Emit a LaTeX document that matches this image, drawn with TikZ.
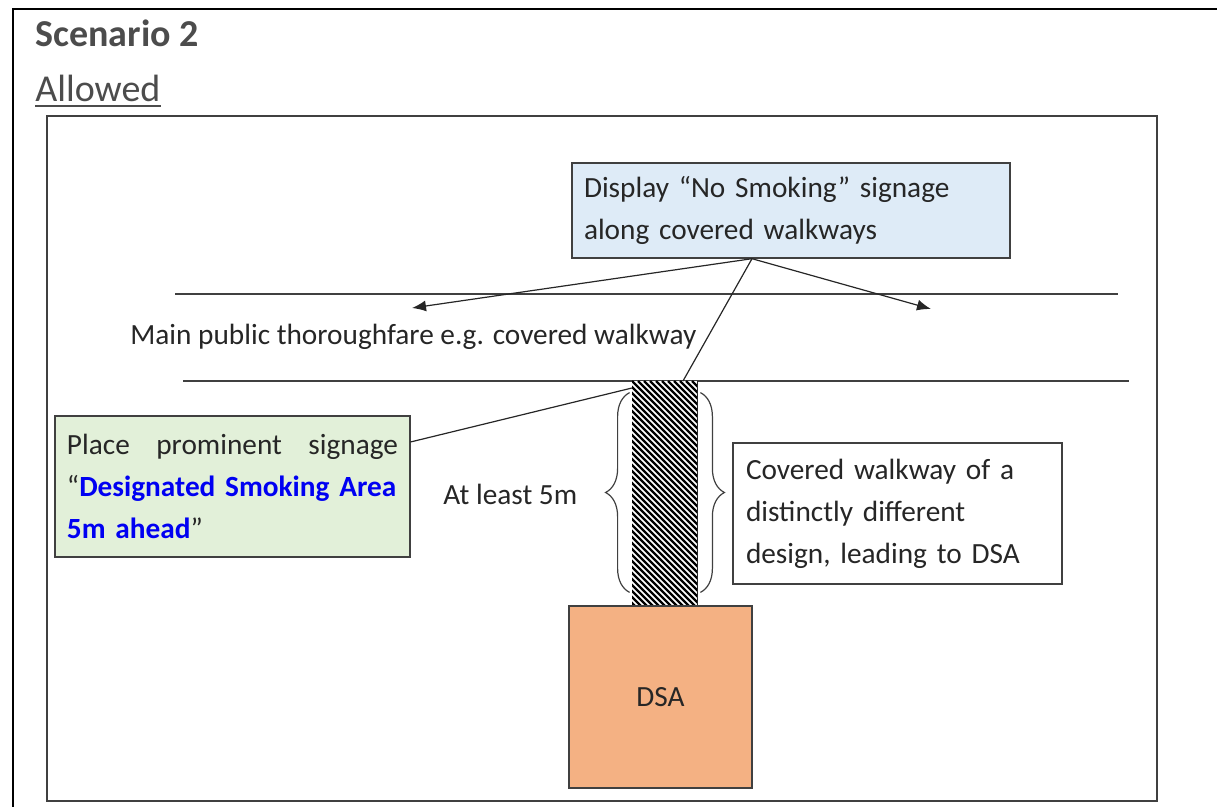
\documentclass[tikz,border=0pt]{standalone}
\usepackage{fontspec}
\setmainfont{Carlito}
\usepackage{xcolor}
\definecolor{cframe}{rgb}{0.25,0.25,0.25}
\definecolor{ctext}{rgb}{0.15,0.15,0.15}
\definecolor{chead}{rgb}{0.3,0.3,0.3}
\definecolor{cnotice}{HTML}{DEEBF7}
\definecolor{csign}{HTML}{E2F0D9}
\definecolor{cdsa}{HTML}{F4B183}
\definecolor{cblue}{rgb}{0,0,0.95}
\usetikzlibrary{arrows.meta, decorations.pathreplacing}
\tikzset{
Box/.style={
	draw=cframe, line width=0.7pt,
	inner sep=0pt, inner xsep=6pt,
	font=\fontsize{14.65}{21}\selectfont,
	text=ctext, align=left
},
NoticeBox/.style={
	Box, fill=cnotice,
	minimum width=219pt, minimum height=47.5pt, text width=207pt
},
SignBox/.style={
	Box, fill=csign,
	minimum width=177.5pt, minimum height=70.5pt, text width=165.5pt
},
NoteBox/.style={
	Box, fill=white,
	minimum width=164.5pt, minimum height=70.5pt, text width=151.5pt
},
DsaBox/.style={
	Box, fill=cdsa, align=center,
	minimum width=91.5pt, minimum height=91pt
},
Label/.style={
	inner sep=0pt, text=ctext,
	font=\fontsize{14.65}{21}\selectfont
},
Heading/.style={
	inner sep=0pt, text=chead,
	font=\fontsize{19}{23}\selectfont
},
Walkway/.style={
	draw=cframe, line width=0.75pt
},
Leader/.style={
	draw=black!85, line width=0.6pt
},
Pointer/.style={
	Leader, -{Latex[length=7pt, width=5.5pt]}
},
Brace/.style={
	draw=cframe, line width=0.6pt,
	decorate, decoration={brace, amplitude=12pt}
},
Hatched/.style={
	fill=white, inner sep=0pt,
	minimum width=32.5pt, minimum height=112.5pt,
	path picture={
		\foreach \d in {-240,-234,...,70}
			\draw[line width=1.15pt] (path picture bounding box.north west) ++(\d,0) -- ++(250,250);
	}
}
}

\begin{document}
\begin{tikzpicture}[x=0.5pt, y=-0.5pt]
	\useasboundingbox (0,0) rectangle (1217,807);

	% page frame and scenario frame
	\draw[line width=1pt] (13,807) -- (13,9) -- (1217,9);
	\draw[cframe, line width=0.8pt] (47,116) rectangle (1157,801);

	\node[Heading, font=\fontsize{19}{23}\selectfont\bfseries, anchor=base west] (title) at (35,47) {Scenario 2};
	\node[Heading, anchor=base west] (allowed) at (35,102) {Allowed};
	\draw[chead, line width=1.1pt] ([yshift=-2pt]allowed.base west) -- ([yshift=-2pt]allowed.base east);

	% thoroughfare
	\draw[Walkway] (175,294) -- (1118,294);
	\draw[Walkway] (183,381) -- (1129,381);
	\node[Label, anchor=base west] (road) at (130,345) {Main public thoroughfare e.g. covered walkway};

	% walkway to the DSA
	\node[Hatched] (strip) at (664.5,493.5) {};
	\draw[Leader] (strip.north east) -- (strip.south east);
	\node[DsaBox] (dsa) at (660.5,697) {DSA};

	\draw[Brace] ([shift={(-2,-14)}]strip.south west) -- ([shift={(-2,12)}]strip.north west);
	\draw[Brace] ([shift={(3,12)}]strip.north east) -- ([shift={(3,-14)}]strip.south east);
	\node[Label, anchor=base west] (gap) at (443,505) {At least 5m};

	% callouts
	\node[NoticeBox] (notice) at (791,210.5) {Display “No Smoking” signage\\along covered walkways};
	\node[SignBox] (sign) at (232.5,486.5) {\makebox[165.5pt][l]{Place\hfill prominent\hfill signage}\\“\textcolor{cblue}{\bfseries Designated Smoking Area}\\\textcolor{cblue}{\bfseries 5m ahead}”};
	\node[NoteBox] (note) at (897.5,513.5) {Covered walkway of a\\distinctly different\\design, leading to DSA};

	\coordinate (hub) at ([xshift=-19.5pt]notice.south);
	\coordinate (tipW) at (412,308);
	\coordinate (tipE) at (931,309);
	\coordinate (stripTop) at (683,381);
	\coordinate (signOut) at (410.5,442);
	\coordinate (stripSide) at (632,388);

	\draw[Pointer] (hub) -- (tipW);
	\draw[Pointer] (hub) -- (tipE);
	\draw[Leader] (hub) -- (stripTop);
	\draw[Leader] (signOut) -- (stripSide);
\end{tikzpicture}
\end{document}
